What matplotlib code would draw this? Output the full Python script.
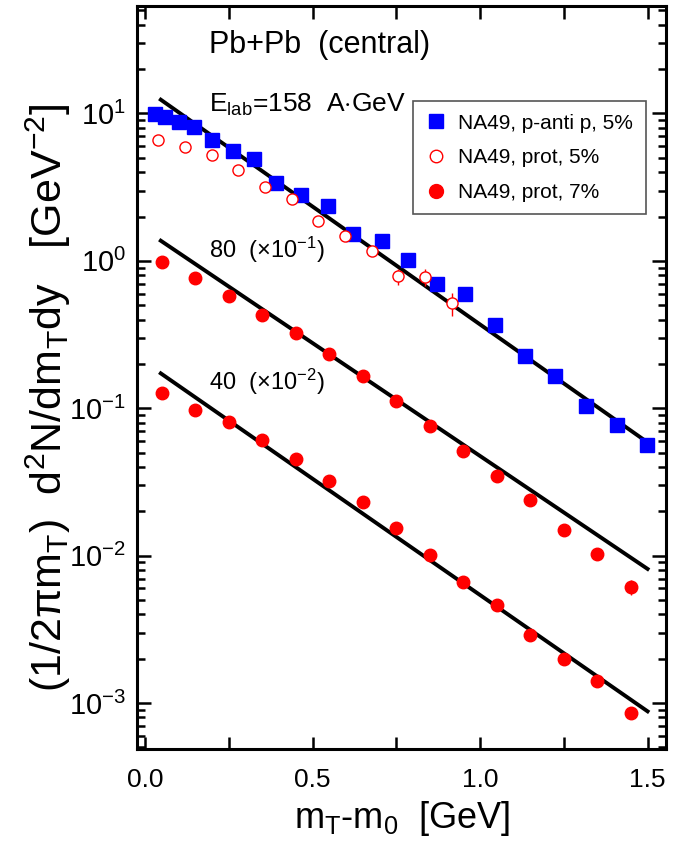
import matplotlib
matplotlib.use("Agg")
import matplotlib.pyplot as plt
from matplotlib.ticker import LogLocator, NullFormatter, FixedLocator

plt.rcParams['font.family'] = ['Liberation Sans', 'DejaVu Sans']
plt.rcParams['mathtext.fontset'] = 'custom'
plt.rcParams['mathtext.rm'] = 'Liberation Sans'
plt.rcParams['mathtext.it'] = 'Liberation Sans'

# NA49 p - anti p, 5%
pap_x = [0.030, 0.06, 0.10, 0.147, 0.201, 0.262, 0.326, 0.391, 0.465, 0.545, 0.621,
         0.706, 0.786, 0.871, 0.955, 1.045, 1.135, 1.225, 1.316, 1.409, 1.499]
pap_y = [9.9, 9.4, 8.8, 8.1, 6.6, 5.6, 4.9, 3.4, 2.79, 2.35, 1.51,
         1.37, 1.02, 0.695, 0.593, 0.370, 0.227, 0.165, 0.103, 0.0775, 0.0565]

# NA49 prot, 5%
p5_x = [0.040, 0.119, 0.199, 0.278, 0.358, 0.438, 0.517, 0.597, 0.676, 0.756, 0.836, 0.916]
p5_y = [6.6, 5.96, 5.23, 4.14, 3.19, 2.62, 1.87, 1.48, 1.17, 0.785, 0.78, 0.515]
p5_err = [0, 0, 0, 0, 0, 0, 0, 0, 0, 0.10, 0.10, 0.09]

# NA49 prot, 7%  (80 AGeV x0.1 and 40 AGeV x0.01)
p7_x = [0.05, 0.15, 0.25, 0.35, 0.45, 0.55, 0.65, 0.75, 0.85, 0.95, 1.05, 1.15, 1.25, 1.35, 1.45]
p80_y = [0.979, 0.762, 0.578, 0.430, 0.324, 0.232, 0.166, 0.112, 0.0763, 0.0515,
         0.0347, 0.0240, 0.0150, 0.0102, 0.00614]
p80_err = [0, 0, 0, 0, 0, 0, 0, 0, 0, 0, 0, 0, 0.0012, 0.0009, 0.0007]
p40_y = [0.1276, 0.0973, 0.0811, 0.0610, 0.0453, 0.0321, 0.0230, 0.0154, 0.0101,
         0.00665, 0.00463, 0.00291, 0.00200, 0.00142, 0.000855]

# model curves (straight in log scale)
line_x = [0.047, 1.50]
line158_y = [12.4, 0.0587]
line80_y = [1.37, 0.00813]
line40_y = [0.1725, 0.000879]

fig = plt.figure(figsize=(6.74, 8.48), dpi=100)
ax = fig.add_axes([137/674, 1-749/848, (666-137)/674, (749-6)/848])

for ly in (line158_y, line80_y, line40_y):
    ax.plot(line_x, ly, color='black', lw=2.8, zorder=2)

ax.plot(pap_x, pap_y, 's', color='#0000ff', ms=9.5, mec='#0000ff', zorder=3)
ax.errorbar(p5_x, p5_y, yerr=p5_err, fmt='o', ms=8, mfc='white', mec='#ff0000',
            mew=1.0, ecolor='#ff0000', elinewidth=1.0, capsize=0, zorder=4)
ax.errorbar(p7_x, p80_y, yerr=p80_err, fmt='o', ms=9, color='#ff0000',
            ecolor='#ff0000', elinewidth=1.0, capsize=0, zorder=4)
ax.plot(p7_x, p40_y, 'o', ms=9, color='#ff0000', zorder=4)

# legend handles without error bars
h1, = ax.plot([], [], 's', color='#0000ff', ms=10, label='NA49, p-anti p, 5%')
h2, = ax.plot([], [], 'o', ms=9, mfc='white', mec='#ff0000', mew=1.0, label='NA49, prot, 5%')
h3, = ax.plot([], [], 'o', ms=10, color='#ff0000', label='NA49, prot, 7%')

ax.set_yscale('log')
ax.set_xlim(-0.024, 1.555)
ax.set_ylim(4.88e-4, 53.6)

ax.xaxis.set_major_locator(FixedLocator([0.0, 0.5, 1.0, 1.5]))
ax.xaxis.set_minor_locator(FixedLocator([0.25, 0.75, 1.25]))
ax.set_xticklabels(['0.0', '0.5', '1.0', '1.5'])
ax.yaxis.set_minor_locator(LogLocator(base=10, subs=range(2, 10), numticks=20))
ax.yaxis.set_minor_formatter(NullFormatter())
ax.set_yticks([1e-3, 1e-2, 1e-1, 1, 10])
ax.set_yticklabels(['10$^{-3}$', '10$^{-2}$', '10$^{-1}$', '10$^{0}$', '10$^{1}$'])

ax.tick_params(which='both', direction='in', top=True, right=True, width=1.8)
ax.tick_params(axis='x', which='both', length=9, labelsize=19, pad=14)
ax.tick_params(axis='y', which='major', length=10, labelsize=21, pad=8)
ax.tick_params(axis='y', which='minor', length=6)
for sp in ax.spines.values():
    sp.set_linewidth(2.2)

ax.text(0.19, 25.6, 'Pb+Pb  (central)', fontsize=22, va='baseline')
ax.text(0.19, 10.2, 'E$_{\\mathrm{lab}}$=158  A$\\cdot$GeV', fontsize=19, va='baseline')
ax.text(0.19, 1.04, '80  (×10$^{-1}$)', fontsize=17, va='baseline')
ax.text(0.19, 0.133, '40  (×10$^{-2}$)', fontsize=17, va='baseline')

leg = ax.legend(handles=[h1, h2, h3], loc='upper left', bbox_to_anchor=(0.521, 0.872),
                fontsize=15, frameon=True, fancybox=False, edgecolor='#555555',
                framealpha=1, handlelength=1.0, handletextpad=0.6, labelspacing=0.75,
                borderpad=0.6, borderaxespad=0)
leg.get_frame().set_linewidth(1.2)

fig.text(48/674, 1-398/848,
         '(1/2$\\pi$m$_\\mathrm{T}$)  d$^2$N/dm$_\\mathrm{T}$dy   [GeV$^{-2}$]',
         rotation=90, ha='center', va='center', fontsize=31)
fig.text(402/674, 1-818/848, 'm$_\\mathrm{T}$-m$_0$  [GeV]', ha='center', va='center',
         fontsize=26)

fig.savefig('out.png', dpi=100)
